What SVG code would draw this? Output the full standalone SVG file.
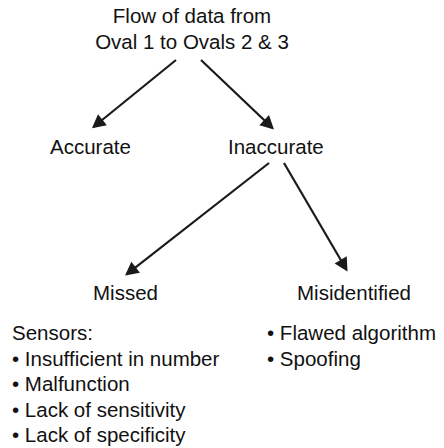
<svg xmlns="http://www.w3.org/2000/svg" width="444" height="448" viewBox="0 0 444 448">
<style>
text{font-family:"Liberation Sans",Arial,Helvetica,sans-serif;font-size:20.5px;fill:#111}
.c{text-anchor:middle}
.a{stroke:#1a1a1a;stroke-width:2.2;fill:none;marker-end:url(#ah)}
</style>
<defs>
<marker id="ah" markerUnits="userSpaceOnUse" markerWidth="16" markerHeight="16" refX="11.5" refY="7" orient="auto" overflow="visible">
<path d="M0,0 L13.5,7 L0,14 z" fill="#1a1a1a"/>
</marker>
</defs>
<rect width="444" height="448" fill="#fff"/>
<g id="connectors">
<line class="a" x1="176" y1="60" x2="93.5" y2="127"/>
<line class="a" x1="201" y1="60" x2="272.5" y2="128"/>
<line class="a" x1="269" y1="163" x2="126.6" y2="274.3"/>
<line class="a" x1="284" y1="163" x2="346.5" y2="269.8"/>
</g>
<g id="root">
<text class="c" x="192" y="23">Flow of data from</text>
<text class="c" x="192" y="48.5">Oval 1 to Ovals 2 &amp; 3</text>
</g>
<g id="accurate"><text x="50" y="154">Accurate</text></g>
<g id="inaccurate"><text x="228" y="154">Inaccurate</text></g>
<g id="missed"><text x="93" y="300">Missed</text></g>
<g id="misidentified"><text x="297" y="300">Misidentified</text></g>
<g id="missed-causes">
<text x="12" y="340">Sensors:</text>
<text x="12" y="365.6">• Insufficient in number</text>
<text x="12" y="391.2">• Malfunction</text>
<text x="12" y="416.8">• Lack of sensitivity</text>
<text x="12" y="442.4">• Lack of specificity</text>
</g>
<g id="misidentified-causes">
<text x="267" y="340">• Flawed algorithm</text>
<text x="267" y="365.6">• Spoofing</text>
</g>
</svg>
